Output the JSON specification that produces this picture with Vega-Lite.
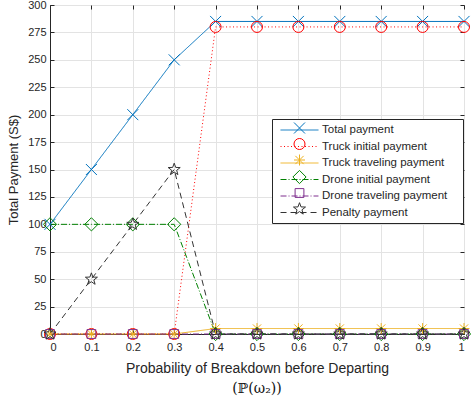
{
  "$schema": "https://vega.github.io/schema/vega-lite/v6.json",
  "width": 414,
  "height": 329,
  "autosize": "none",
  "padding": {"left": 50, "top": 5, "right": 7, "bottom": 70},
  "background": "white",
  "config": {
    "font": "Liberation Sans",
    "view": {"stroke": "#262626", "strokeWidth": 1},
    "axis": {"labelFont": "Liberation Sans", "titleFont": "Liberation Sans", "labelColor": "#262626", "titleColor": "#262626", "domainColor": "#262626", "tickColor": "#262626", "gridColor": "#e3e3e3", "labelFontSize": 11, "titleFontSize": 13, "titleFontWeight": "normal"}
  },
  "title": {"text": "(ℙ(ω₂))", "orient": "bottom", "anchor": "middle", "font": "DejaVu Serif", "fontSize": 14, "fontWeight": "normal", "color": "#111111", "offset": 7},
  "data": {"values": [
    {"p": 0, "v": 100, "s": "Total payment"}, {"p": 0.1, "v": 150, "s": "Total payment"}, {"p": 0.2, "v": 200, "s": "Total payment"}, {"p": 0.3, "v": 250, "s": "Total payment"}, {"p": 0.4, "v": 285, "s": "Total payment"}, {"p": 0.5, "v": 285, "s": "Total payment"}, {"p": 0.6, "v": 285, "s": "Total payment"}, {"p": 0.7, "v": 285, "s": "Total payment"}, {"p": 0.8, "v": 285, "s": "Total payment"}, {"p": 0.9, "v": 285, "s": "Total payment"}, {"p": 1, "v": 285, "s": "Total payment"},
    {"p": 0, "v": 0, "s": "Truck initial payment"}, {"p": 0.1, "v": 0, "s": "Truck initial payment"}, {"p": 0.2, "v": 0, "s": "Truck initial payment"}, {"p": 0.3, "v": 0, "s": "Truck initial payment"}, {"p": 0.4, "v": 280, "s": "Truck initial payment"}, {"p": 0.5, "v": 280, "s": "Truck initial payment"}, {"p": 0.6, "v": 280, "s": "Truck initial payment"}, {"p": 0.7, "v": 280, "s": "Truck initial payment"}, {"p": 0.8, "v": 280, "s": "Truck initial payment"}, {"p": 0.9, "v": 280, "s": "Truck initial payment"}, {"p": 1, "v": 280, "s": "Truck initial payment"},
    {"p": 0, "v": 0, "s": "Truck traveling payment"}, {"p": 0.1, "v": 0, "s": "Truck traveling payment"}, {"p": 0.2, "v": 0, "s": "Truck traveling payment"}, {"p": 0.3, "v": 0, "s": "Truck traveling payment"}, {"p": 0.4, "v": 5, "s": "Truck traveling payment"}, {"p": 0.5, "v": 5, "s": "Truck traveling payment"}, {"p": 0.6, "v": 5, "s": "Truck traveling payment"}, {"p": 0.7, "v": 5, "s": "Truck traveling payment"}, {"p": 0.8, "v": 5, "s": "Truck traveling payment"}, {"p": 0.9, "v": 5, "s": "Truck traveling payment"}, {"p": 1, "v": 5, "s": "Truck traveling payment"},
    {"p": 0, "v": 100, "s": "Drone initial payment"}, {"p": 0.1, "v": 100, "s": "Drone initial payment"}, {"p": 0.2, "v": 100, "s": "Drone initial payment"}, {"p": 0.3, "v": 100, "s": "Drone initial payment"}, {"p": 0.4, "v": 0, "s": "Drone initial payment"}, {"p": 0.5, "v": 0, "s": "Drone initial payment"}, {"p": 0.6, "v": 0, "s": "Drone initial payment"}, {"p": 0.7, "v": 0, "s": "Drone initial payment"}, {"p": 0.8, "v": 0, "s": "Drone initial payment"}, {"p": 0.9, "v": 0, "s": "Drone initial payment"}, {"p": 1, "v": 0, "s": "Drone initial payment"},
    {"p": 0, "v": 0, "s": "Drone traveling payment"}, {"p": 0.1, "v": 0, "s": "Drone traveling payment"}, {"p": 0.2, "v": 0, "s": "Drone traveling payment"}, {"p": 0.3, "v": 0, "s": "Drone traveling payment"}, {"p": 0.4, "v": 0, "s": "Drone traveling payment"}, {"p": 0.5, "v": 0, "s": "Drone traveling payment"}, {"p": 0.6, "v": 0, "s": "Drone traveling payment"}, {"p": 0.7, "v": 0, "s": "Drone traveling payment"}, {"p": 0.8, "v": 0, "s": "Drone traveling payment"}, {"p": 0.9, "v": 0, "s": "Drone traveling payment"}, {"p": 1, "v": 0, "s": "Drone traveling payment"},
    {"p": 0, "v": 0, "s": "Penalty payment"}, {"p": 0.1, "v": 50, "s": "Penalty payment"}, {"p": 0.2, "v": 100, "s": "Penalty payment"}, {"p": 0.3, "v": 150, "s": "Penalty payment"}, {"p": 0.4, "v": 0, "s": "Penalty payment"}, {"p": 0.5, "v": 0, "s": "Penalty payment"}, {"p": 0.6, "v": 0, "s": "Penalty payment"}, {"p": 0.7, "v": 0, "s": "Penalty payment"}, {"p": 0.8, "v": 0, "s": "Penalty payment"}, {"p": 0.9, "v": 0, "s": "Penalty payment"}, {"p": 1, "v": 0, "s": "Penalty payment"}
  ]},
  "resolve": {"axis": {"x": "independent", "y": "independent"}},
  "layer": [
    {
      "mark": {"type": "line", "strokeWidth": 1, "clip": false},
      "encoding": {
        "x": {"field": "p", "type": "quantitative", "scale": {"domain": [0, 1], "nice": false},
              "axis": {"title": "Probability of Breakdown before Departing", "titleFontSize": 14, "values": [0, 0.1, 0.2, 0.3, 0.4, 0.5, 0.6, 0.7, 0.8, 0.9, 1], "format": "~g", "grid": true, "tickSize": -4, "labelPadding": 11, "titlePadding": 9, "domain": true}},
        "y": {"field": "v", "type": "quantitative", "scale": {"domain": [0, 300], "nice": false},
              "axis": {"title": "Total Payment (S$)", "values": [0, 25, 50, 75, 100, 125, 150, 175, 200, 225, 250, 275, 300], "grid": true, "tickSize": -4, "labelPadding": 8, "titlePadding": 7, "domain": true}},
        "stroke": {"field": "s", "type": "nominal",
                  "scale": {"domain": ["Total payment", "Truck initial payment", "Truck traveling payment", "Drone initial payment", "Drone traveling payment", "Penalty payment"],
                            "range": ["#0072BD", "#FF0000", "#EDB120", "#008000", "#7E2F8E", "#333333"]},
                  "legend": {"orient": "none", "legendX": 222, "legendY": 114, "title": ".", "titleOrient": "right", "titleOpacity": 0, "titleFontSize": 11, "titlePadding": 7, "symbolType": "M-3.45,0L3.45,0", "symbolSize": 121, "symbolStrokeWidth": 1, "symbolOpacity": 1, "padding": 5, "symbolOffset": 16.5, "labelOffset": 16.5, "rowPadding": 4.5, "labelFont": "Liberation Sans", "labelFontSize": 11.5, "labelColor": "#262626", "fillColor": "white", "strokeColor": "#262626", "labelLimit": 300}},
        "strokeDash": {"field": "s", "type": "nominal",
                       "scale": {"domain": ["Total payment", "Truck initial payment", "Truck traveling payment", "Drone initial payment", "Drone traveling payment", "Penalty payment"],
                                 "range": [[1, 0], [1, 2.5], [1, 0], [6, 2, 1, 2], [6, 2, 1, 2], [6, 4]]}}
      }
    },
    {
      "mark": {"type": "point", "filled": false, "size": 121, "strokeWidth": 1, "opacity": 1, "clip": false},
      "encoding": {
        "x": {"field": "p", "type": "quantitative", "axis": {"orient": "top", "title": null, "labels": false, "grid": false, "domain": false, "tickSize": -4, "values": [0, 0.1, 0.2, 0.3, 0.4, 0.5, 0.6, 0.7, 0.8, 0.9, 1]}},
        "y": {"field": "v", "type": "quantitative", "axis": {"orient": "right", "title": null, "labels": false, "grid": false, "domain": false, "tickSize": -4, "values": [0, 25, 50, 75, 100, 125, 150, 175, 200, 225, 250, 275, 300]}},
        "color": {"field": "s", "type": "nominal",
                  "scale": {"domain": ["Total payment", "Truck initial payment", "Truck traveling payment", "Drone initial payment", "Drone traveling payment", "Penalty payment", "zz"],
                            "range": ["#0072BD", "#FF0000", "#EDB120", "#008000", "#7E2F8E", "#333333", "#333333"]}},
        "shape": {"field": "s", "type": "nominal",
                  "scale": {"domain": ["Total payment", "Truck initial payment", "Truck traveling payment", "Drone initial payment", "Drone traveling payment", "Penalty payment", "zz"],
                            "range": ["M-1,-1L1,1M-1,1L1,-1", "circle", "M-1,0L1,0M0,-1L0,1M-0.75,-0.75L0.75,0.75M-0.75,0.75L0.75,-0.75", "M0,-1.2L1.2,0L0,1.2L-1.2,0Z", "M-0.8,-0.8L0.8,-0.8L0.8,0.8L-0.8,0.8Z", "M0,-1.15L0.276,-0.38L1.094,-0.355L0.447,0.145L0.676,0.93L0,0.47L-0.676,0.93L-0.447,0.145L-1.094,-0.355L-0.276,-0.38Z", "circle"]},
                  "legend": {"orient": "none", "legendX": 222, "legendY": 112, "title": null, "values": ["Total payment", "Truck initial payment", "Truck traveling payment", "Drone initial payment", "Drone traveling payment", "Penalty payment"], "symbolSize": 121, "symbolStrokeWidth": 1, "symbolOpacity": 1, "padding": 5, "symbolOffset": 16.5, "labelOffset": 16.5, "rowPadding": 0, "labelFont": "Liberation Sans", "labelFontSize": 11.5, "labelExpr": "''"}}
      }
    }
  ]
}
